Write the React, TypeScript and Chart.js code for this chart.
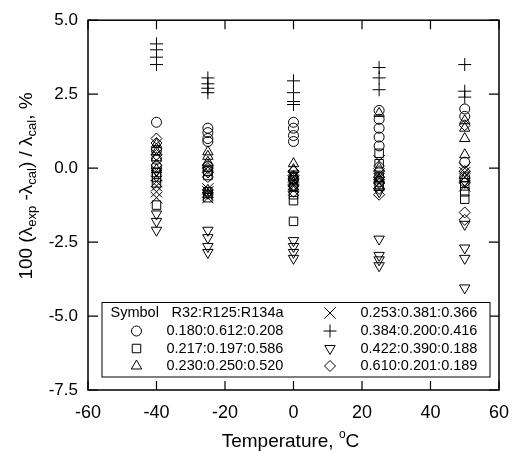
import React, { useEffect, useRef } from 'react';
import { Chart, registerables } from 'chart.js';
import { drawPoint } from 'chart.js/helpers';

Chart.register(...registerables);

// Temperatures (°C) at which the measurements were taken
const temperatures = [-40, -25, 0, 25, 50];

// Deviations (%) per temperature, one inner array per temperature above
const circleValues = [[1.55, 0.6, 0.3, 0.05], [1.35, 1.2, 1.0, 0.9, 0.05, -0.1], [1.55, 1.35, 1.1, 0.9, -0.35], [1.95, 1.65, 1.35, 1.05, 0.75, -0.45], [2.0, 1.75, 0.2, -0.3]];
const squareValues = [[-0.15, -0.3, -0.5, -1.25], [-0.1, -0.25, -0.8, -1.0], [-0.4, -0.65, -0.9, -1.1, -1.8], [0.5, 0.15, -0.3, -0.6], [-0.6, -0.8, -1.05]];
const triangleValues = [[0.8, 0.55, 0.35, -0.05], [0.55, 0.4, 0.2, -0.9, -0.75], [0.15, -0.05, -0.3, -0.5], [1.85, 0.0, -0.4, -0.65], [1.6, 1.35, 1.0, 0.45, -0.35]];
const crossValues = [[-0.25, -0.45, -0.6, -0.8, -1.0], [-0.7, -0.8, -0.9, -1.0], [-0.3, -0.45, -0.55, -0.75], [0.25, -0.2, -0.35, -0.5], [0.0, -0.15, -0.3, -0.6]];
const plusValues = [[4.2, 4.0, 3.75, 3.5], [3.05, 2.85, 2.7, 2.55], [2.95, 2.55, 2.25, 2.15], [3.4, 3.05, 2.65], [3.5, 2.6, 2.4]];
const downTriangleValues = [[-0.1, -1.55, -1.8, -2.1], [-0.85, -2.1, -2.35, -2.65, -2.85], [-0.2, -2.45, -2.65, -2.85, -3.05], [-0.8, -2.4, -2.95, -3.1, -3.3], [-0.45, -1.9, -2.7, -3.05, -4.05]];
const diamondValues = [[1.0, 0.85, 0.65, 0.45, 0.1], [0.1, 0.0, -0.15, -0.3], [-0.1, -0.25, -0.4, -0.6, -0.8], [-0.1, -0.3, -0.5, -0.7, -0.9], [1.45, -0.1, -0.5, -1.5, -1.75]];

const seriesLabels = [
  '0.180:0.612:0.208',
  '0.217:0.197:0.586',
  '0.230:0.250:0.520',
  '0.253:0.381:0.366',
  '0.384:0.200:0.416',
  '0.422:0.390:0.188',
  '0.610:0.201:0.189',
];

const xTickRange = { min: -60, max: 60, step: 20 };
const yTickRange = { min: -7.5, max: 5, step: 2.5 };

const FONT = '"Liberation Sans", Arial, Helvetica, sans-serif';

const toPoints = (vals: number[][]) =>
  vals.flatMap((arr, i) => arr.map((v) => ({ x: temperatures[i], y: v })));

const styles = [
  { pointStyle: 'circle', radius: 5, rotation: 0 },
  { pointStyle: 'rect', radius: 6, rotation: 0 },
  { pointStyle: 'triangle', radius: 6, rotation: 0 },
  { pointStyle: 'crossRot', radius: 8, rotation: 0 },
  { pointStyle: 'cross', radius: 6.5, rotation: 0 },
  { pointStyle: 'triangle', radius: 6, rotation: 180 },
  { pointStyle: 'rectRot', radius: 5.5, rotation: 0 },
];

type Seg = { t: string; size: number; dy: number };

function drawRich(ctx: CanvasRenderingContext2D, segs: Seg[], cx: number, baseY: number) {
  let total = 0;
  for (const s of segs) {
    ctx.font = `${s.size}px ${FONT}`;
    total += ctx.measureText(s.t).width;
  }
  let x = cx - total / 2;
  ctx.textAlign = 'left';
  ctx.textBaseline = 'alphabetic';
  for (const s of segs) {
    ctx.font = `${s.size}px ${FONT}`;
    ctx.fillText(s.t, x, baseY + s.dy);
    x += ctx.measureText(s.t).width;
  }
}

const decorPlugin = {
  id: 'decor',
  afterDraw(chart: any) {
    const ctx: CanvasRenderingContext2D = chart.ctx;
    const { left, right, top, bottom } = chart.chartArea;
    const xs = chart.scales.x;
    const ys = chart.scales.y;
    ctx.save();
    ctx.strokeStyle = '#000';
    ctx.fillStyle = '#000';
    ctx.lineWidth = 1.5;
    ctx.strokeRect(left, top, right - left, bottom - top);
    ctx.lineWidth = 1.2;
    ctx.beginPath();
    for (const t of xs.ticks) {
      const px = xs.getPixelForValue(t.value);
      ctx.moveTo(px, bottom);
      ctx.lineTo(px, bottom - 9);
      ctx.moveTo(px, top);
      ctx.lineTo(px, top + 9);
    }
    for (const t of ys.ticks) {
      const py = ys.getPixelForValue(t.value);
      ctx.moveTo(left, py);
      ctx.lineTo(left + 10, py);
      ctx.moveTo(right, py);
      ctx.lineTo(right - 10, py);
    }
    ctx.stroke();

    // x title
    drawRich(
      ctx,
      [
        { t: 'Temperature, ', size: 19, dy: 0 },
        { t: 'o', size: 12, dy: -9 },
        { t: 'C', size: 19, dy: 0 },
      ],
      (left + right) / 2 - 3,
      447
    );

    // y title
    ctx.save();
    ctx.translate(32, 186);
    ctx.rotate(-Math.PI / 2);
    drawRich(
      ctx,
      [
        { t: '100 (λ', size: 19, dy: 0 },
        { t: 'exp', size: 13, dy: 4 },
        { t: ' -λ', size: 19, dy: 0 },
        { t: 'cal', size: 13, dy: 4 },
        { t: ') / λ', size: 19, dy: 0 },
        { t: 'cal', size: 13, dy: 4 },
        { t: ', %', size: 19, dy: 0 },
      ],
      0,
      0
    );
    ctx.restore();

    // legend box
    const bx = left + 14;
    const by = 302.5;
    const bw = 490 - bx;
    const bh = 377 - by;
    ctx.fillStyle = '#fff';
    ctx.fillRect(bx, by, bw, bh);
    ctx.lineWidth = 1;
    ctx.strokeStyle = '#000';
    ctx.strokeRect(bx, by, bw, bh);

    ctx.fillStyle = '#000';
    ctx.font = `14.5px ${FONT}`;
    ctx.textAlign = 'left';
    ctx.textBaseline = 'middle';
    const rowY = [313, 331, 348.5, 366];
    ctx.fillText('Symbol', 110.5, rowY[0]);
    ctx.fillText('R32:R125:R134a', 171.5, rowY[0]);

    const cells = [
      { col: 0, row: 1 },
      { col: 0, row: 2 },
      { col: 0, row: 3 },
      { col: 1, row: 0 },
      { col: 1, row: 1 },
      { col: 1, row: 2 },
      { col: 1, row: 3 },
    ];
    const symX = [136.5, 330];
    const txtX = [166.5, 360.5];
    chart.data.datasets.forEach((ds: any, i: number) => {
      const c = cells[i];
      const st = styles[i];
      ctx.strokeStyle = '#000';
      ctx.fillStyle = 'rgba(0,0,0,0)';
      ctx.lineWidth = 1;
      drawPoint(ctx, { pointStyle: st.pointStyle as any, radius: st.radius, rotation: st.rotation, borderWidth: 1 } as any, symX[c.col], rowY[c.row]);
      ctx.fillStyle = '#000';
      ctx.font = `14.5px ${FONT}`;
      ctx.textBaseline = 'middle';
      ctx.fillText(ds.label, txtX[c.col], rowY[c.row]);
    });
    ctx.restore();
  },
};

export default function App() {
  const ref = useRef<HTMLCanvasElement | null>(null);
  useEffect(() => {
    if (!ref.current) return;
    const allValues = [circleValues, squareValues, triangleValues, crossValues, plusValues, downTriangleValues, diamondValues];
    const chart = new Chart(ref.current, {
      type: 'scatter',
      data: {
        datasets: allValues.map((vals, i) => ({
          label: seriesLabels[i],
          data: toPoints(vals),
          pointStyle: styles[i].pointStyle as any,
          pointRadius: styles[i].radius,
          pointRotation: styles[i].rotation,
          pointBorderWidth: 1,
          borderColor: '#000',
          backgroundColor: 'rgba(0,0,0,0)',
          pointBackgroundColor: 'rgba(0,0,0,0)',
          pointBorderColor: '#000',
          showLine: false,
        })),
      },
      options: {
        animation: false,
        responsive: false,
        devicePixelRatio: 1,
        layout: { padding: { top: 17, right: 12, left: 0, bottom: 0 } },
        plugins: { legend: { display: false }, tooltip: { enabled: false } },
        scales: {
          x: {
            type: 'linear',
            min: xTickRange.min,
            max: xTickRange.max,
            ticks: { stepSize: xTickRange.step, color: '#000', font: { family: FONT, size: 18 }, padding: 12, maxRotation: 0 },
            grid: { display: false, drawTicks: false },
            border: { display: false },
            afterFit: (s: any) => { s.height = 62; },
          },
          y: {
            type: 'linear',
            min: yTickRange.min,
            max: yTickRange.max,
            ticks: {
              stepSize: yTickRange.step,
              color: '#000',
              font: { family: FONT, size: 17 },
              padding: 10,
              callback: (v: any) => Number(v).toFixed(1),
            },
            grid: { display: false, drawTicks: false },
            border: { display: false },
            afterFit: (s: any) => { s.width = 88; },
          },
        },
      },
      plugins: [decorPlugin],
    });
    return () => chart.destroy();
  }, []);
  return (
    <div style={{ position: 'absolute', left: 0, top: 0, width: 521, height: 452, background: '#fff' }}>
      <canvas ref={ref} width={521} height={452} style={{ width: 521, height: 452 }} />
    </div>
  );
}
